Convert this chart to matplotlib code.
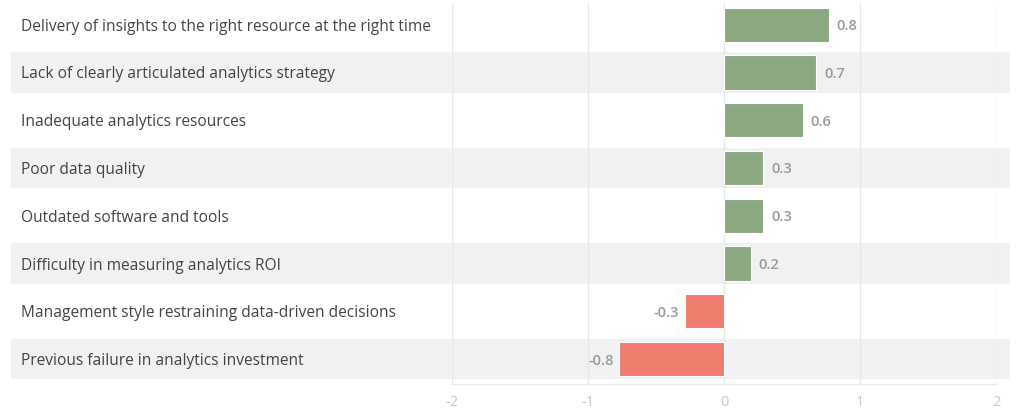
import matplotlib
matplotlib.use("Agg")
import matplotlib.pyplot as plt
from matplotlib.patches import Rectangle
from matplotlib.transforms import blended_transform_factory

plt.rcParams['font.family'] = ['Open Sans', 'DejaVu Sans']

# 各项因素及其得分
categories = [
    "Delivery of insights to the right resource at the right time",
    "Lack of clearly articulated analytics strategy",
    "Inadequate analytics resources",
    "Poor data quality",
    "Outdated software and tools",
    "Difficulty in measuring analytics ROI",
    "Management style restraining data-driven decisions",
    "Previous failure in analytics investment",
]
scores = [0.77, 0.68, 0.58, 0.29, 0.29, 0.2, -0.29, -0.77]
xticks = [-2, -1, 0, 1, 2]

GREEN = "#8ba880"
RED = "#ee7d6e"
STRIPE = "#f0f1f3"
GRID = "#e8e8e8"

fig = plt.figure(figsize=(10.23, 4.13), dpi=100)
ax = fig.add_axes([452 / 1023, 29 / 413, 544 / 1023, 381 / 413])

n = len(categories)
rows = list(range(n))
ax.set_xlim(-2, 2)
ax.set_ylim(7.523, -0.455)

# 隔行底色，横跨整幅图
trans = blended_transform_factory(fig.transFigure, ax.transData)
for i in rows:
    if i % 2 == 1:
        ax.add_patch(Rectangle((11 / 1023, i - 0.42), 999 / 1023, 0.84,
                               transform=trans, facecolor=STRIPE,
                               edgecolor='none', clip_on=False, zorder=0))
    ax.text(21 / 1023, i, categories[i], transform=trans, ha='left',
            va='center_baseline', fontsize=11.2, color='#444444', zorder=3)

# 竖向网格线
for t in xticks:
    ax.axvline(t, color=GRID, linewidth=1, zorder=1)

colors = [GREEN if v >= 0 else RED for v in scores]
ax.barh(rows, scores, height=0.72, color=colors, edgecolor='white',
        linewidth=0.8, zorder=2)

# 数值标签
for i, v in zip(rows, scores):
    if v >= 0:
        ax.annotate(f"{v:.1f}", (v, i), xytext=(5.5, 0), textcoords='offset points',
                    ha='left', va='center_baseline', fontsize=10.5,
                    fontweight='semibold', color='#9a9a9a', zorder=3)
    else:
        ax.annotate(f"{v:.1f}", (v, i), xytext=(-4, 0), textcoords='offset points',
                    ha='right', va='center_baseline', fontsize=10.5,
                    fontweight='semibold', color='#9a9a9a', zorder=3)

ax.set_xticks(xticks)
ax.set_xticklabels([str(t) for t in xticks])
ax.tick_params(axis='x', length=0, labelsize=10.5, labelcolor='#c8c8c8', pad=8)
ax.set_yticks([])
for s in ['top', 'left', 'right']:
    ax.spines[s].set_visible(False)
ax.spines['bottom'].set_color(GRID)
ax.spines['bottom'].set_linewidth(1)
ax.patch.set_alpha(0)

fig.savefig("out.png", dpi=100)
